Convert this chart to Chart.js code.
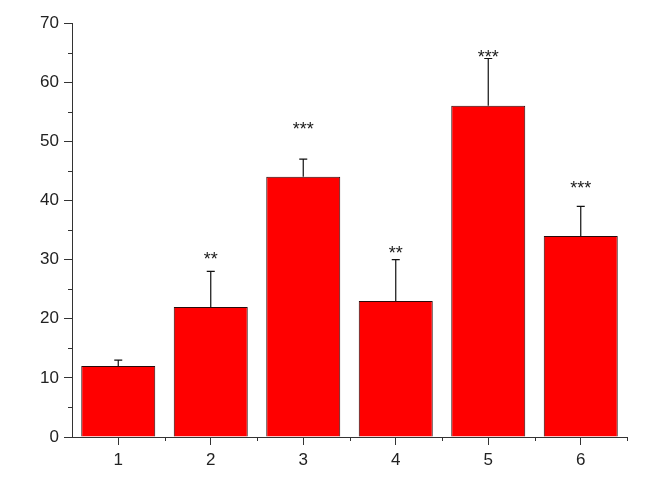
<!DOCTYPE html>
<html>
<head>
<meta charset="utf-8">
<script src="https://cdn.jsdelivr.net/npm/chart.js"></script>
<style>
  html, body { margin: 0; padding: 0; background: #fff; }
  canvas { display: block; }
</style>
</head>
<body>
<canvas id="barChart" width="665" height="486"></canvas>
<script>
// data
const groups = ['1', '2', '3', '4', '5', '6'];
const means = [12, 22, 44, 23, 56, 34];
const errUp = [1, 6, 3, 7, 8, 5];
const stars = ['', '**', '***', '**', '***', '***'];
const starAt = [0, 30.9, 52.8, 31.8, 64.9, 42.8];
const yTicks = [0, 10, 20, 30, 40, 50, 60, 70];
const yMinor = [5, 15, 25, 35, 45, 55, 65];

const FONT = '"Liberation Sans", Arial, sans-serif';

// error bars, significance stars and minor ticks
const extras = {
    id: 'extras',
    afterDatasetsDraw(chart) {
        const ctx = chart.ctx;
        const x = chart.scales.x;
        const y = chart.scales.y;
        ctx.save();
        ctx.strokeStyle = '#111';
        ctx.lineWidth = 1.2;

        means.forEach((m, i) => {
            const px = x.getPixelForValue(i);
            const top = y.getPixelForValue(m);
            const tip = y.getPixelForValue(m + errUp[i]);
            ctx.beginPath();
            ctx.moveTo(px, top);
            ctx.lineTo(px, tip);
            ctx.moveTo(px - 4, tip);
            ctx.lineTo(px + 4, tip);
            ctx.stroke();

            if (stars[i]) {
                const size = 18;
                ctx.font = size + 'px ' + FONT;
                ctx.fillStyle = '#1a1a1a';
                ctx.textAlign = 'center';
                ctx.textBaseline = 'alphabetic';
                ctx.fillText(stars[i], px, y.getPixelForValue(starAt[i]) + size * 0.57);
            }
        });

        // minor ticks on y
        ctx.lineWidth = 1;
        ctx.strokeStyle = '#333';
        const left = chart.chartArea.left;
        yMinor.forEach(v => {
            const py = Math.round(y.getPixelForValue(v)) + 0.5;
            ctx.beginPath();
            ctx.moveTo(left - 4, py);
            ctx.lineTo(left, py);
            ctx.stroke();
        });

        // minor ticks on x at group boundaries
        const bottom = chart.chartArea.bottom;
        const step = x.getPixelForValue(1) - x.getPixelForValue(0);
        groups.forEach((g, i) => {
            const px = Math.round(x.getPixelForValue(i) + step / 2) + 0.5;
            ctx.beginPath();
            ctx.moveTo(px, bottom);
            ctx.lineTo(px, bottom + 4);
            ctx.stroke();
        });
        ctx.restore();
    }
};

new Chart(document.getElementById('barChart'), {
    type: 'bar',
    data: {
        labels: groups,
        datasets: [{
            data: means,
            backgroundColor: '#ff0000',
            borderColor: '#2a0a0a',
            borderWidth: 1,
            barPercentage: 0.8,
            categoryPercentage: 1.0
        }]
    },
    options: {
        responsive: false,
        animation: false,
        devicePixelRatio: 1,
        layout: { padding: { top: 23, right: 38, bottom: 14, left: 0 } },
        plugins: {
            legend: { display: false },
            tooltip: { enabled: false }
        },
        scales: {
            x: {
                offset: true,
                grid: {
                    offset: false,
                    drawOnChartArea: false,
                    drawTicks: true,
                    tickLength: 8,
                    color: '#333'
                },
                border: { color: '#333', width: 1 },
                ticks: {
                    color: '#222',
                    padding: 5,
                    font: { family: FONT, size: 17 }
                },
                afterFit(scale) { scale.height = 35; }
            },
            y: {
                min: 0,
                max: 70,
                afterBuildTicks(scale) {
                    scale.ticks = yTicks.map(v => ({ value: v }));
                },
                grid: {
                    drawOnChartArea: false,
                    drawTicks: true,
                    tickLength: 8,
                    color: '#333'
                },
                border: { color: '#333', width: 1 },
                ticks: {
                    color: '#222',
                    padding: 5,
                    font: { family: FONT, size: 17 }
                },
                afterFit(scale) { scale.width = 72; }
            }
        }
    },
    plugins: [extras]
});
</script>
</body>
</html>
